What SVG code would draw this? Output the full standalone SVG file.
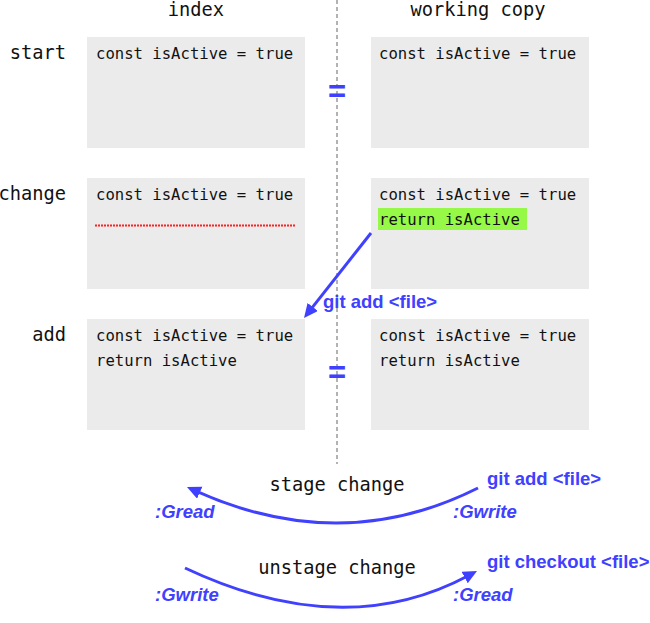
<svg xmlns="http://www.w3.org/2000/svg" width="650" height="623" viewBox="0 0 650 623">
<style>
.box{fill:#ebebeb}
.mono{font-family:"DejaVu Sans Mono","Liberation Mono",monospace;fill:#111}
.code{font-size:15.6px}
.big{font-size:18.7px}
.blue{font-family:"Liberation Sans",Arial,sans-serif;font-weight:bold;fill:#4040ff;font-size:18.5px}
.it{font-style:italic}
.eq{font-family:"Liberation Sans",Arial,sans-serif;font-weight:bold;fill:#4040ff;font-size:31px;text-anchor:middle}
.conn{fill:none;stroke:#4040ff;stroke-width:3}
</style>
<defs>
<marker id="ah" markerUnits="userSpaceOnUse" markerWidth="16" markerHeight="14" refX="4" refY="6.5" orient="auto">
<path d="M0,0 L14,6.5 L0,13 z" fill="#4040ff"/>
</marker>
</defs>
<rect width="650" height="623" fill="#fff"/>
<line x1="337" y1="0" x2="337" y2="464" stroke="#666" stroke-width="1" stroke-dasharray="4,3"/>
<g id="headers" class="mono big" text-anchor="middle">
<text x="196" y="16">index</text>
<text x="478" y="16">working copy</text>
</g>
<g id="rowlabels" class="mono big" text-anchor="end">
<text x="66" y="59">start</text>
<text x="66" y="200">change</text>
<text x="66" y="341">add</text>
</g>
<g id="start-index"><rect class="box" x="87" y="37" width="218" height="111"/><text class="mono code" x="96" y="59">const isActive = true</text></g>
<g id="start-wc"><rect class="box" x="371" y="37" width="218" height="111"/><text class="mono code" x="379" y="59">const isActive = true</text></g>
<g id="start-eq"><text class="eq" x="337" y="102">=</text></g>
<g id="change-index"><rect class="box" x="87" y="178" width="218" height="111"/><text class="mono code" x="96" y="200">const isActive = true</text>
<line x1="95" y1="225.5" x2="296" y2="225.5" stroke="#ff2020" stroke-width="2" stroke-dasharray="2,1"/></g>
<g id="change-wc"><rect class="box" x="371" y="178" width="218" height="111"/><text class="mono code" x="379" y="200">const isActive = true</text>
<rect x="378" y="208" width="149" height="22" fill="#96f948"/><text class="mono code" x="379" y="225">return isActive</text></g>
<g id="add-index"><rect class="box" x="87" y="319" width="218" height="111"/><text class="mono code" x="96" y="341">const isActive = true</text><text class="mono code" x="96" y="366">return isActive</text></g>
<g id="add-wc"><rect class="box" x="371" y="319" width="218" height="111"/><text class="mono code" x="379" y="341">const isActive = true</text><text class="mono code" x="379" y="366">return isActive</text></g>
<g id="add-eq"><text class="eq" x="337" y="383">=</text></g>
<g id="connectors">
<path class="conn" d="M371,233 L310.2,310.1" marker-end="url(#ah)"/>
<path class="conn" d="M478,488 Q341.5,556.5 196.1,491.1" marker-end="url(#ah)"/>
<path class="conn" d="M185,568 Q343,642.5 468.2,575.7" marker-end="url(#ah)"/>
</g>
<g id="labels">
<text class="blue" x="323" y="308">git add &lt;file&gt;</text>
<text class="mono big" x="337" y="491" text-anchor="middle">stage change</text>
<text class="blue" x="487" y="485">git add &lt;file&gt;</text>
<text class="blue it" x="155" y="518">:Gread</text>
<text class="blue it" x="453" y="518">:Gwrite</text>
<text class="mono big" x="337" y="574" text-anchor="middle">unstage change</text>
<text class="blue" x="487" y="568">git checkout &lt;file&gt;</text>
<text class="blue it" x="155" y="601">:Gwrite</text>
<text class="blue it" x="453" y="601">:Gread</text>
</g>
</svg>
